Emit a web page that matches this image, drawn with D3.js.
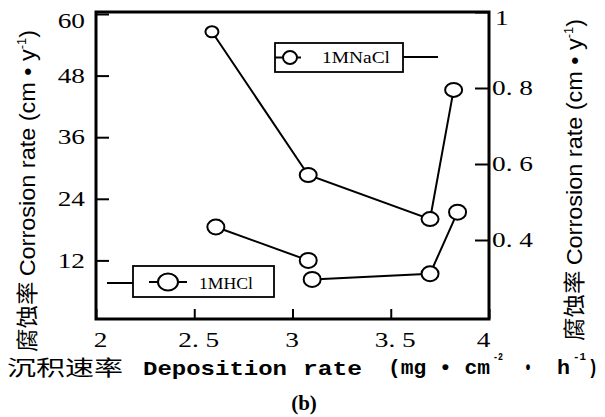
<!DOCTYPE html>
<html>
<head>
<meta charset="utf-8">
<script src="https://cdn.jsdelivr.net/npm/d3@7"></script>
<style>
  body { margin: 0; background: #fff; }
  text { fill: #000; }
</style>
</head>
<body>
<svg id="chart" width="605" height="417"></svg>
<script>
// tick values
const xTicks = [2, 2.5, 3, 3.5, 4];
const leftTicks = [12, 24, 36, 48, 60];
const rightTicks = [0.4, 0.6, 0.8, 1];

// 1M NaCl -> right axis
const naclX = [2.59, 3.08, 3.70, 3.82];
const naclY = [0.948, 0.571, 0.455, 0.795];

// 1M HCl -> left axis (two separate runs of points)
const hclX = [2.61, 3.08, 3.10, 3.70, 3.84];
const hclY = [18.5, 12.0, 8.3, 9.4, 21.4];
const hclRun = [1, 1, 2, 2, 2];

const W = 605, H = 417;
const margin = { top: 12, right: 116, bottom: 98, left: 96 };
const plotW = W - margin.left - margin.right;
const plotH = H - margin.top - margin.bottom;

const svg = d3.select('#chart');
const g = svg.append('g').attr('transform', `translate(${margin.left},${margin.top})`);

const x = d3.scaleLinear().domain([2, 4]).range([0, plotW]);
const yL = d3.scaleLinear().domain([0, 60]).range([plotH + 3, 2]);
const yR = d3.scaleLinear().domain([0.2, 1]).range([plotH - 3, 0]);

const fmt = d => String(d).replace('.', '. ');

// stretch text horizontally, the scan is wide
function stretch(sel, k) {
  sel.each(function () {
    const w = this.getComputedTextLength();
    d3.select(this).attr('textLength', w * k).attr('lengthAdjust', 'spacingAndGlyphs');
  });
}

// ===== axes =====
const tickFont = sel => sel.selectAll('text')
  .attr('font-family', 'Liberation Serif, serif')
  .attr('font-size', 21);

const xAxisG = g.append('g').attr('transform', `translate(0,${plotH})`)
  .call(d3.axisBottom(x).tickValues(xTicks).tickFormat(fmt).tickSize(-10).tickPadding(0));
xAxisG.call(tickFont);
xAxisG.selectAll('text').attr('dy', null).attr('y', 28)
  .attr('dx', d => d === 4 ? -6 : (d === 3 ? -1 : 4));

const yLG = g.append('g')
  .call(d3.axisLeft(yL).tickValues(leftTicks).tickSize(-13).tickPadding(11));
yLG.call(tickFont);
yLG.selectAll('.tick').filter(d => d === 60).select('text').attr('dy', '0.62em');

const yRG = g.append('g').attr('transform', `translate(${plotW},0)`)
  .call(d3.axisRight(yR).tickValues(rightTicks).tickFormat(fmt).tickSize(-14).tickPadding(3));
yRG.call(tickFont);
yRG.selectAll('.tick').filter(d => d === 1).select('text').attr('dy', '0.6em').attr('x', 6);

[xAxisG, yLG, yRG].forEach(a => {
  a.select('.domain').remove();
  a.selectAll('line').attr('stroke', '#000').attr('stroke-width', 2);
  stretch(a.selectAll('text'), 1.3);
});

// frame
g.append('rect')
  .attr('width', plotW).attr('height', plotH)
  .attr('fill', 'none').attr('stroke', '#000').attr('stroke-width', 3);

// ===== series =====
const nacl = naclX.map((v, i) => ({ x: v, y: naclY[i] }));
const hcl = hclX.map((v, i) => ({ x: v, y: hclY[i], run: hclRun[i] }));

const lineR = d3.line().x(d => x(d.x)).y(d => yR(d.y));
const lineL = d3.line().x(d => x(d.x)).y(d => yL(d.y));

g.append('path').datum(nacl).attr('d', lineR)
  .attr('fill', 'none').attr('stroke', '#000').attr('stroke-width', 2);

d3.groups(hcl, d => d.run).forEach(([, pts]) => {
  g.append('path').datum(pts).attr('d', lineL)
    .attr('fill', 'none').attr('stroke', '#000').attr('stroke-width', 2);
});

g.selectAll('.m-nacl').data(nacl).enter().append('ellipse')
  .attr('class', 'm-nacl')
  .attr('cx', d => x(d.x)).attr('cy', d => yR(d.y))
  .attr('rx', (d, i) => i === 0 ? 6.5 : 8.5).attr('ry', (d, i) => i === 0 ? 5.5 : 7)
  .attr('fill', '#fff').attr('stroke', '#000').attr('stroke-width', 2);

g.selectAll('.m-hcl').data(hcl).enter().append('ellipse')
  .attr('class', 'm-hcl')
  .attr('cx', d => x(d.x)).attr('cy', d => yL(d.y))
  .attr('rx', 8.5).attr('ry', 7.5)
  .attr('fill', '#fff').attr('stroke', '#000').attr('stroke-width', 2);

// ===== legends =====
function legend(bx, by, bw, bh, label, sym, lead, txt) {
  const lg = svg.append('g');
  lg.append('line').attr('x1', lead[0]).attr('x2', lead[1]).attr('y1', lead[2]).attr('y2', lead[2])
    .attr('stroke', '#000').attr('stroke-width', 2);
  lg.append('rect').attr('x', bx).attr('y', by).attr('width', bw).attr('height', bh)
    .attr('fill', '#fff').attr('stroke', '#000').attr('stroke-width', 1.8);
  lg.append('line').attr('x1', sym[0]).attr('x2', sym[1]).attr('y1', sym[3]).attr('y2', sym[3])
    .attr('stroke', '#000').attr('stroke-width', 2);
  lg.append('ellipse').attr('cx', sym[2]).attr('cy', sym[3]).attr('rx', sym[4]).attr('ry', sym[5])
    .attr('fill', '#fff').attr('stroke', '#000').attr('stroke-width', 2);
  lg.append('text').attr('x', txt[0]).attr('y', txt[1]).text(label)
    .attr('font-family', 'Liberation Serif, serif').attr('font-size', 17)
    .attr('textLength', txt[2]).attr('lengthAdjust', 'spacingAndGlyphs');
}
legend(275, 43, 128, 29, '1MNaCl', [275, 301, 290, 57.5, 7, 6.5], [403, 438, 57], [322, 63, 68]);
legend(133, 266, 141, 31, '1MHCl', [149, 187, 168, 282, 10, 8.5], [107, 133, 283], [199, 289, 54]);

// ===== axis titles =====
const cjk = 'Noto Sans CJK SC, sans-serif';
const mono = 'Liberation Mono, monospace';
const xTitle = [
  { t: '沉积速率', x: 7, w: 116, f: cjk, s: 21, y: 375 },
  { t: 'Deposition', x: 143, w: 144, f: mono, s: 21, y: 375 },
  { t: 'rate', x: 303, w: 59, f: mono, s: 21, y: 375 },
  { t: '(mg • cm', x: 388, w: 102, f: mono, s: 21, y: 374 },
  { t: '-2', x: 493, w: 10, f: mono, s: 11, y: 360 },
  { t: '•', x: 524, w: 8, f: mono, s: 21, y: 374 },
  { t: 'h', x: 557, w: 13, f: mono, s: 21, y: 374 },
  { t: '-1', x: 573, w: 13, f: mono, s: 11, y: 360 },
  { t: ')', x: 588, w: 10, f: mono, s: 21, y: 374 }
];
svg.append('g').selectAll('text').data(xTitle).enter().append('text')
  .attr('x', d => d.x).attr('y', d => d.y).text(d => d.t)
  .attr('font-family', d => d.f).attr('font-size', d => d.s)
  .attr('font-weight', d => d.f === mono ? 'bold' : 'normal')
  .attr('textLength', d => d.w).attr('lengthAdjust', 'spacingAndGlyphs');

svg.append('text').attr('x', 304).attr('y', 410).attr('text-anchor', 'middle')
  .attr('font-family', 'Liberation Serif, serif').attr('font-size', 21).attr('font-weight', 'bold')
  .text('(b)');

// vertical titles
function yTitle(cx, cy) {
  const t = svg.append('text')
    .attr('transform', `translate(${cx},${cy}) rotate(-90)`)
    .attr('text-anchor', 'middle')
    .attr('font-family', 'Liberation Sans, Arial, sans-serif')
    .attr('font-size', 22)
    .attr('textLength', 322).attr('lengthAdjust', 'spacingAndGlyphs');
  t.append('tspan').attr('font-family', cjk).text('腐蚀率 ');
  t.append('tspan').text('Corrosion rate (cm • y');
  t.append('tspan').attr('font-size', 12).attr('dy', -9).text('-1');
  t.append('tspan').attr('dy', 9).text(')');
}
yTitle(35, 191);
yTitle(582, 180);
</script>
</body>
</html>
